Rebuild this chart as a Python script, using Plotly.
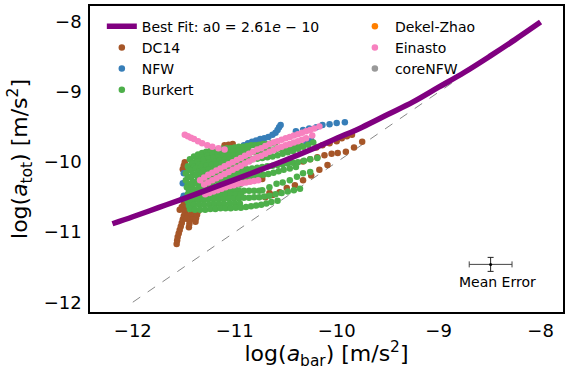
import plotly.graph_objects as go

# ---------------- data ----------------
fit_x = [-12.2, -12.0, -11.75, -11.5, -11.0, -10.75, -10.5, -10.25, -10.0, -9.75, -9.5, -9.25, -9.0, -8.75, -8.5, -8.25, -8.0]
fit_y = [-10.88, -10.78, -10.65, -10.52, -10.25, -10.11, -9.97, -9.82, -9.66, -9.50, -9.32, -9.14, -8.93, -8.72, -8.49, -8.25, -8.00]

one_x = [-12.0, -8.8]
one_y = [-12.0, -8.8]

dc14 = [
    (-11.57, -11.17), (-11.565, -11.12), (-11.56, -11.07), (-11.55, -11.02), (-11.54, -10.97), (-11.53, -10.92),
    (-11.52, -10.87), (-11.51, -10.82), (-11.50, -10.77), (-11.49, -10.72), (-11.48, -10.67),
    (-11.45, -10.93), (-11.445, -10.88), (-11.44, -10.83), (-11.43, -10.78), (-11.42, -10.73), (-11.41, -10.68),
    (-11.385, -10.85), (-11.38, -10.80), (-11.37, -10.75), (-11.36, -10.70),
    (-11.54, -10.68), (-11.52, -10.64), (-11.50, -10.60), (-11.47, -10.62), (-11.46, -10.76), (-11.47, -10.81),
    (-11.51, -10.10), (-11.50, -10.05), (-11.49, -10.00),
    (-11.10, -9.76), (-11.06, -9.75), (-11.02, -9.74),
    (-10.73, -10.24), (-10.66, -10.44),
    (-9.75, -9.71), (-9.83, -9.79), (-9.91, -9.85), (-9.99, -9.87), (-10.05, -9.88), (-10.12, -9.90),
    (-10.19, -9.93), (-10.26, -9.96), (-10.33, -9.99),
    (-9.85, -9.61), (-9.90, -9.63), (-9.95, -9.66), (-10.00, -9.70), (-10.07, -9.73), (-10.14, -9.76), (-10.20, -9.79),
    (-10.09, -10.04), (-10.17, -10.11), (-10.25, -10.19), (-10.33, -10.26), (-10.41, -10.33), (-10.49, -10.37),
    (-10.56, -10.43), (-10.63, -10.47), (-10.70, -10.50),
]

nfw = [
    (-10.95, -9.79), (-10.91, -9.76), (-10.87, -9.73), (-10.83, -9.71), (-10.79, -9.69), (-10.75, -9.67),
    (-10.71, -9.66), (-10.67, -9.64), (-10.63, -9.61), (-10.60, -9.58), (-10.58, -9.54), (-10.565, -9.50), (-10.55, -9.47),
    (-10.40, -9.56), (-10.33, -9.54), (-10.27, -9.52), (-10.20, -9.50), (-10.14, -9.47), (-10.07, -9.46),
    (-10.00, -9.44), (-9.92, -9.43),
    (-11.50, -10.16), (-11.51, -10.30), (-11.51, -10.52), (-11.50, -10.48),
    (-10.25, -9.69), (-10.30, -9.71),
]

burkert = [
    # upper track
    (-11.44, -9.96), (-11.40, -9.92), (-11.36, -9.89), (-11.32, -9.87), (-11.28, -9.85), (-11.24, -9.84), (-11.20, -9.83),
    (-11.16, -9.82), (-11.12, -9.81), (-11.08, -9.80), (-11.04, -9.80), (-11.00, -9.79), (-10.96, -9.78), (-10.92, -9.78),
    (-10.88, -9.77), (-10.84, -9.76), (-10.80, -9.76), (-10.76, -9.75), (-10.72, -9.74), (-10.68, -9.74), (-10.64, -9.73), (-10.60, -9.72),
    (-11.42, -10.00), (-11.37, -9.96), (-11.32, -9.93), (-11.27, -9.91), (-11.22, -9.89), (-11.17, -9.88), (-11.12, -9.87),
    (-11.07, -9.86), (-11.02, -9.85), (-10.97, -9.84), (-10.92, -9.83), (-10.87, -9.82),
    # track 2
    (-11.46, -10.06), (-11.41, -10.02), (-11.36, -9.99), (-11.31, -9.97), (-11.26, -9.95), (-11.21, -9.94), (-11.16, -9.93),
    (-11.11, -9.92), (-11.06, -9.91), (-11.01, -9.90), (-10.96, -9.89), (-10.91, -9.88), (-10.86, -9.87), (-10.81, -9.86),
    (-10.76, -9.85), (-10.71, -9.84), (-10.66, -9.83), (-10.61, -9.82), (-10.56, -9.81), (-10.51, -9.80), (-10.46, -9.79),
    (-10.41, -9.78), (-10.36, -9.76),
    (-11.45, -10.11), (-11.40, -10.07), (-11.35, -10.04), (-11.30, -10.02), (-11.25, -10.00), (-11.20, -9.99), (-11.15, -9.98),
    (-11.10, -9.97), (-11.05, -9.96), (-11.00, -9.95), (-10.95, -9.94), (-10.90, -9.93),
    # track 3
    (-11.48, -10.16), (-11.43, -10.12), (-11.38, -10.09), (-11.33, -10.07), (-11.28, -10.05), (-11.23, -10.04), (-11.18, -10.03),
    (-11.13, -10.02), (-11.08, -10.01), (-11.03, -10.00), (-10.98, -9.99), (-10.93, -9.98), (-10.88, -9.97), (-10.83, -9.96),
    (-10.78, -9.95), (-10.73, -9.94), (-10.68, -9.93), (-10.63, -9.92), (-10.58, -9.90), (-10.53, -9.88), (-10.48, -9.86),
    (-10.43, -9.84), (-10.38, -9.81), (-10.33, -9.78), (-10.28, -9.75), (-10.23, -9.72),
    (-11.46, -10.21), (-11.41, -10.17), (-11.36, -10.14), (-11.31, -10.12), (-11.26, -10.11), (-11.21, -10.10), (-11.16, -10.09),
    (-11.11, -10.08), (-11.06, -10.07), (-11.01, -10.06), (-10.96, -10.05), (-10.91, -10.04),
    # track 4
    (-11.48, -10.26), (-11.43, -10.22), (-11.38, -10.19), (-11.33, -10.17), (-11.28, -10.16), (-11.23, -10.15), (-11.18, -10.14),
    (-11.13, -10.13), (-11.08, -10.13), (-11.03, -10.12), (-10.98, -10.11), (-10.93, -10.10), (-10.88, -10.10), (-10.83, -10.09),
    (-10.78, -10.08), (-10.73, -10.07), (-10.68, -10.06), (-10.63, -10.05), (-10.58, -10.04), (-10.53, -10.03), (-10.48, -10.02),
    (-10.43, -10.01), (-10.38, -10.00), (-10.32, -9.98), (-10.26, -9.96), (-10.19, -9.94),
    (-11.46, -10.31), (-11.41, -10.28), (-11.36, -10.25), (-11.31, -10.24), (-11.26, -10.23), (-11.21, -10.22), (-11.16, -10.21),
    (-11.11, -10.20), (-11.06, -10.19), (-11.01, -10.18), (-10.96, -10.17), (-10.91, -10.16),
    # track 5
    (-11.47, -10.36), (-11.42, -10.33), (-11.37, -10.31), (-11.32, -10.30), (-11.27, -10.29), (-11.22, -10.28), (-11.17, -10.27),
    (-11.12, -10.26), (-11.07, -10.25), (-11.02, -10.24), (-10.97, -10.23), (-10.92, -10.22), (-10.87, -10.21), (-10.82, -10.20),
    (-10.77, -10.19), (-10.72, -10.18), (-10.67, -10.17), (-10.62, -10.15), (-10.57, -10.13), (-10.52, -10.11), (-10.46, -10.09), (-10.40, -10.07),
    (-11.45, -10.41), (-11.40, -10.39), (-11.35, -10.37), (-11.30, -10.36), (-11.25, -10.35), (-11.20, -10.35), (-11.15, -10.34),
    (-11.10, -10.34), (-11.05, -10.33), (-11.00, -10.33), (-10.95, -10.32),
    # track 6
    (-11.46, -10.46), (-11.41, -10.44), (-11.36, -10.43), (-11.31, -10.42), (-11.26, -10.42), (-11.21, -10.41), (-11.16, -10.41),
    (-11.11, -10.41), (-11.06, -10.41), (-11.01, -10.41), (-10.96, -10.41), (-10.91, -10.41), (-10.86, -10.41), (-10.81, -10.41),
    (-10.76, -10.41), (-10.73, -10.40), (-10.66, -10.36), (-10.59, -10.31), (-10.53, -10.29), (-10.46, -10.26), (-10.39, -10.21),
    (-10.33, -10.16), (-10.26, -10.14),
    (-11.44, -10.51), (-11.39, -10.49), (-11.34, -10.48), (-11.29, -10.48), (-11.24, -10.47), (-11.19, -10.47), (-11.14, -10.47),
    (-11.09, -10.47), (-11.04, -10.46), (-10.99, -10.46), (-10.94, -10.46),
    # track 7
    (-11.46, -10.56), (-11.41, -10.55), (-11.36, -10.54), (-11.31, -10.54), (-11.26, -10.53), (-11.21, -10.53), (-11.16, -10.53),
    (-11.11, -10.53), (-11.06, -10.52), (-11.01, -10.52), (-10.96, -10.52), (-10.91, -10.51), (-10.86, -10.51), (-10.81, -10.50),
    (-10.76, -10.50), (-10.71, -10.49), (-10.66, -10.48), (-10.60, -10.46), (-10.54, -10.44), (-10.48, -10.42), (-10.42, -10.40), (-10.36, -10.38),
    # track 8
    (-11.45, -10.62), (-11.40, -10.61), (-11.35, -10.61), (-11.30, -10.61), (-11.25, -10.60), (-11.20, -10.60), (-11.15, -10.60),
    (-11.10, -10.60), (-11.05, -10.59), (-11.00, -10.59), (-10.95, -10.59),
    # bottom track
    (-11.44, -10.67), (-11.39, -10.68), (-11.34, -10.68), (-11.29, -10.68), (-11.24, -10.67), (-11.19, -10.67), (-11.14, -10.66),
    (-11.09, -10.66), (-11.04, -10.66), (-10.99, -10.65), (-10.94, -10.65), (-10.89, -10.64), (-10.84, -10.63), (-10.79, -10.62),
    (-10.74, -10.61), (-10.69, -10.59), (-10.64, -10.57), (-10.58, -10.55),
]

dekel_zhao = [(-11.0, -10.30), (-10.9, -10.25), (-10.8, -10.20)]

einasto = [
    (-11.49, -9.61), (-11.46, -9.63), (-11.43, -9.65), (-11.40, -9.67), (-11.36, -9.70), (-11.32, -9.73), (-11.27, -9.76),
    (-11.22, -9.78), (-11.16, -9.80), (-11.10, -9.82),
    (-11.34, -10.26), (-11.30, -10.22), (-11.26, -10.18), (-11.22, -10.15), (-11.18, -10.12), (-11.14, -10.09), (-11.10, -10.06),
    (-11.06, -10.03), (-11.02, -10.00), (-10.98, -9.97), (-10.94, -9.94), (-10.90, -9.91), (-10.86, -9.88), (-10.82, -9.85),
    (-10.78, -9.82), (-10.74, -9.80), (-10.70, -9.77), (-10.66, -9.74), (-10.62, -9.72), (-10.58, -9.70), (-10.54, -9.68),
    (-10.50, -9.66), (-10.46, -9.64), (-10.42, -9.62), (-10.38, -9.60), (-10.34, -9.58), (-10.30, -9.56), (-10.26, -9.54),
    (-10.22, -9.52), (-10.17, -9.49),
    (-11.30, -10.32), (-11.26, -10.29), (-11.22, -10.26), (-11.18, -10.23), (-11.14, -10.20), (-11.10, -10.17), (-11.06, -10.14),
    (-11.02, -10.11), (-10.98, -10.08), (-10.94, -10.05), (-10.90, -10.02), (-10.86, -9.99), (-10.82, -9.96), (-10.78, -9.93),
    (-10.74, -9.91), (-10.70, -9.88), (-10.66, -9.85), (-10.62, -9.83), (-10.58, -9.80), (-10.54, -9.78), (-10.50, -9.76),
    (-10.46, -9.74), (-10.42, -9.72), (-10.38, -9.70), (-10.34, -9.68), (-10.30, -9.66), (-10.24, -9.62),
    (-11.29, -10.46), (-11.25, -10.44), (-11.21, -10.42), (-11.17, -10.40), (-11.13, -10.38), (-11.09, -10.36), (-11.05, -10.34),
    (-11.01, -10.33), (-10.97, -10.31), (-10.93, -10.30), (-10.89, -10.29), (-10.85, -10.28), (-10.81, -10.27), (-10.77, -10.26),
]

core_nfw = [(-11.1, -10.40), (-11.0, -10.36)]

mean_err_x, mean_err_y = [-8.49], [-11.46]
mean_err_dx, mean_err_dy = 0.21, 0.10

FONT = "DejaVu Sans"
C_DC14, C_NFW, C_BUR, C_DZ, C_EIN, C_CORE = "#a65628", "#377eb8", "#4daf4a", "#ff7f00", "#f781bf", "#999999"

fig = go.Figure()

def add_pts(pts, name, color, legend, rank, size=6.5):
    fig.add_trace(go.Scatter(
        x=[p[0] for p in pts], y=[p[1] for p in pts], mode="markers", name=name,
        marker=dict(color=color, size=size, line=dict(width=0)),
        legend=legend, legendrank=rank))

fig.add_trace(go.Scatter(x=one_x, y=one_y, mode="lines", line=dict(color="#888888", width=1, dash="dash"),
                         showlegend=False, hoverinfo="skip"))
add_pts(core_nfw, "coreNFW", C_CORE, "legend2", 3)
add_pts(dekel_zhao, "Dekel-Zhao", C_DZ, "legend2", 1)
add_pts(dc14, "DC14", C_DC14, "legend", 2)
add_pts(nfw, "NFW", C_NFW, "legend", 3)
add_pts(burkert, "Burkert", C_BUR, "legend", 4)
add_pts(einasto, "Einasto", C_EIN, "legend2", 2)

fig.add_trace(go.Scatter(x=fit_x, y=fit_y, mode="lines", name="Best Fit: a0 = 2.61<i>e</i> − 10",
                         line=dict(color="#800080", width=5.5, shape="spline"), legend="legend", legendrank=1))

fig.add_trace(go.Scatter(x=mean_err_x, y=mean_err_y, mode="markers", showlegend=False,
                         marker=dict(color="black", size=3),
                         error_x=dict(type="constant", value=mean_err_dx, color="#444444", thickness=1, width=3),
                         error_y=dict(type="constant", value=mean_err_dy, color="#222222", thickness=1, width=3)))

fig.add_annotation(x=-8.42, y=-11.71, text="Mean Error", showarrow=False,
                   font=dict(family=FONT, size=14, color="black"))

axis_common = dict(showgrid=False, zeroline=False, showline=True, mirror=True, linecolor="black", linewidth=1.5,
                   ticks="", automargin=False, tickfont=dict(family=FONT, size=18, color="black"))

fig.update_layout(
    width=571, height=370,
    margin=dict(l=90, r=8, t=6, b=58),
    paper_bgcolor="white", plot_bgcolor="white",
    font=dict(family=FONT, color="black"),
    xaxis=dict(range=[-12.42, -7.78], tickvals=[-12, -11, -10, -9, -8], ticklabelstandoff=2,
               title=dict(text="log(<i>a</i><sub>bar</sub>) [m/s<sup>2</sup>]", font=dict(family=FONT, size=22), standoff=2),
               **axis_common),
    yaxis=dict(range=[-12.14, -7.77], tickvals=[-12, -11, -10, -9, -8], ticklabelstandoff=3,
               title=dict(text="log(<i>a</i><sub>tot</sub>) [m/s<sup>2</sup>]", font=dict(family=FONT, size=22), standoff=10),
               **axis_common),
    legend=dict(x=0.025, y=0.985, xanchor="left", yanchor="top", bgcolor="rgba(0,0,0,0)",
                font=dict(family=FONT, size=14), tracegroupgap=0, itemwidth=30),
    legend2=dict(x=0.56, y=0.985, xanchor="left", yanchor="top", bgcolor="rgba(0,0,0,0)",
                 font=dict(family=FONT, size=14), tracegroupgap=0, itemwidth=30),
)

fig.write_html("out.html", config={"responsive": False, "displayModeBar": False},
               post_script="document.body.style.margin='0px';document.body.style.overflow='hidden';")
